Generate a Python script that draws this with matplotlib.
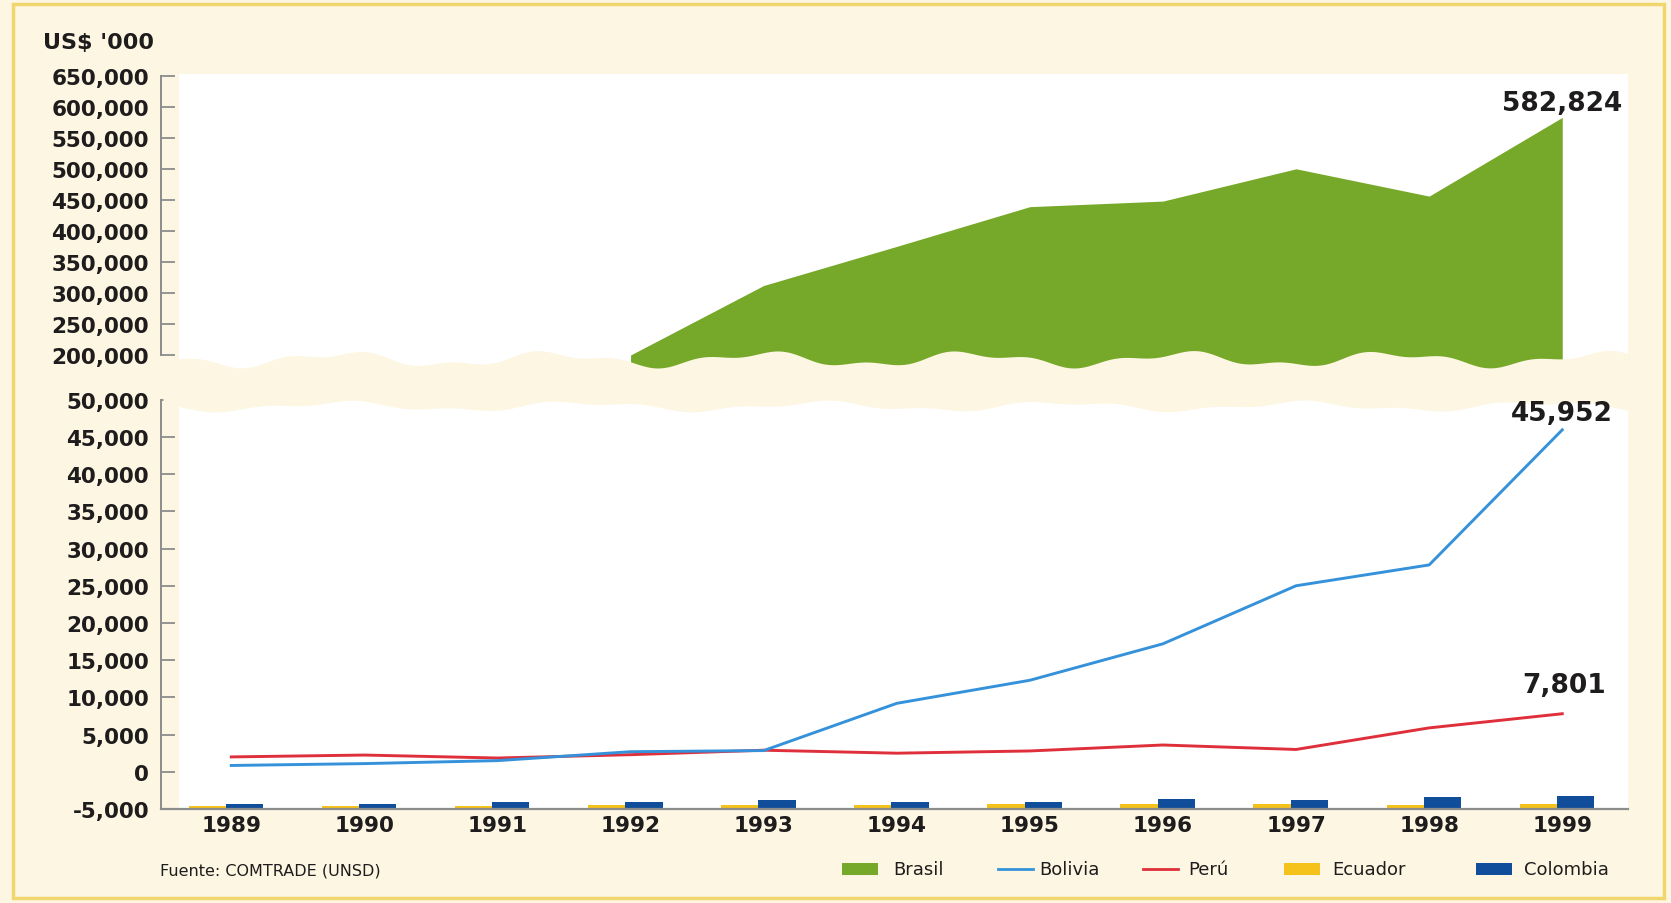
import numpy as np
import matplotlib
matplotlib.use("Agg")
import matplotlib.pyplot as plt
from matplotlib.patches import Rectangle
from matplotlib.lines import Line2D
from matplotlib.ticker import FuncFormatter, FixedLocator

# ---- data (US$ '000) ----
years = [1989, 1990, 1991, 1992, 1993, 1994, 1995, 1996, 1997, 1998, 1999]
brasil = [np.nan, np.nan, np.nan, 200000, 312000, 375000, 439000, 448000, 500000, 456000, 582824]
bolivia = [850, 1100, 1500, 2700, 2850, 9200, 12300, 17200, 25000, 27800, 45952]
peru = [2000, 2250, 1850, 2300, 2900, 2500, 2800, 3600, 3000, 5900, 7801]
ecuador = [400, 450, 450, 500, 550, 550, 650, 650, 700, 600, 650]
colombia = [700, 700, 1000, 1000, 1150, 1000, 1000, 1300, 1150, 1550, 1700]

top_ticks = [200000, 250000, 300000, 350000, 400000, 450000, 500000, 550000, 600000, 650000]
bottom_ticks = [-5000, 0, 5000, 10000, 15000, 20000, 25000, 30000, 35000, 40000, 45000, 50000]
series_names = ["Brasil", "Bolivia", "Perú", "Ecuador", "Colombia"]
unit_label = "US$ '000"
source_label = "Fuente: COMTRADE (UNSD)"

# ---- style ----
W, H = 1671, 904
CREAM = "#FDF6E3"
BORDER = "#F1D56E"
GREEN = "#76A929"
BLUE = "#3592DA"
RED = "#DF2F3B"
YELLOW = "#F5C21B"
NAVY = "#104E9C"
SPINE = "#8C8C8C"
INK = "#1E1C1C"
series_colors = [GREEN, BLUE, RED, YELLOW, NAVY]

plt.rcParams["font.family"] = ["DejaVu Sans"]

fig = plt.figure(figsize=(W / 100, H / 100), dpi=100, facecolor=CREAM)


def frac_box(left, top, right, bottom):
    return [left / W, 1 - bottom / H, (right - left) / W, (bottom - top) / H]


yrs = np.array(years, dtype=float)
x_lo, x_hi = 1988.472, 1999.494
fmt = FuncFormatter(lambda v, _: f"{v:,.0f}")

ax_top = fig.add_axes(frac_box(161, 74.6, 1628, 372))
ax_bot = fig.add_axes(frac_box(161, 397, 1628, 810))

for ax in (ax_top, ax_bot):
    ax.set_facecolor("none")
    ax.add_patch(Rectangle((0.012, 0), 0.988, 1, transform=ax.transAxes,
                           facecolor="white", edgecolor="none", zorder=0))
    ax.set_xlim(x_lo, x_hi)
    for s in ("top", "right"):
        ax.spines[s].set_visible(False)
    ax.spines["left"].set_color(SPINE)
    ax.spines["left"].set_linewidth(1.4)
    ax.tick_params(axis="y", direction="in", length=10, width=1.3, color=SPINE,
                   pad=8.6, labelsize=15.5, labelcolor=INK)

# ---- upper panel: Brasil ----
b = np.array(brasil, dtype=float)
ok = ~np.isnan(b)
ax_top.fill_between(yrs[ok], b[ok], 0, color=GREEN, linewidth=0, zorder=2)
ax_top.set_ylim(174200, 653400)
ax_top.yaxis.set_major_locator(FixedLocator(top_ticks))
ax_top.yaxis.set_major_formatter(fmt)
ax_top.spines["left"].set_bounds(top_ticks[0], top_ticks[-1])
ax_top.spines["bottom"].set_visible(False)
ax_top.tick_params(axis="x", bottom=False, labelbottom=False)

# ---- lower panel: Bolivia, Perú, Ecuador, Colombia ----
base = bottom_ticks[0]
ax_bot.set_ylim(base, 50500)
ax_bot.yaxis.set_major_locator(FixedLocator(bottom_ticks))
ax_bot.yaxis.set_major_formatter(fmt)
ax_bot.spines["left"].set_bounds(bottom_ticks[0], bottom_ticks[-1])
ax_bot.spines["bottom"].set_color(SPINE)
ax_bot.spines["bottom"].set_linewidth(1.6)
ax_bot.spines["bottom"].set_zorder(4)

bar_w = 0.28
ax_bot.bar(yrs - 0.18, ecuador, width=bar_w, bottom=base, color=YELLOW, zorder=3)
ax_bot.bar(yrs + 0.10, colombia, width=bar_w, bottom=base, color=NAVY, zorder=3)
ax_bot.plot(yrs, peru, color=RED, lw=2.1, zorder=4, solid_joinstyle="round")
ax_bot.plot(yrs, bolivia, color=BLUE, lw=2.1, zorder=5, solid_joinstyle="round")

ax_bot.set_xticks(years)
ax_bot.set_xticklabels([str(y) for y in years])
ax_bot.tick_params(axis="x", length=0, pad=4.5, labelsize=15.5, labelcolor=INK)

for ax in (ax_top, ax_bot):
    for lab in ax.get_yticklabels() + ax.get_xticklabels():
        lab.set_fontweight("bold")

# ---- overlay in pixel space: axis break band, frame, legend, captions ----
deco = fig.add_axes([0, 0, 1, 1], zorder=10)
deco.set_xlim(0, W)
deco.set_ylim(H, 0)
deco.axis("off")
deco.patch.set_alpha(0)

bx = np.linspace(163, 1640, 600)
band_top = 360 + 6 * np.sin(2 * np.pi * bx / 210 + 0.8) + 3 * np.sin(2 * np.pi * bx / 83 + 2.0)
band_bot = 407 + 4 * np.sin(2 * np.pi * bx / 240 + 2.1) + 2 * np.sin(2 * np.pi * bx / 95)
deco.fill_between(bx, band_top, band_bot, color=CREAM, linewidth=0)

deco.add_patch(Rectangle((13, 5), 1651, 894, fill=False, edgecolor=BORDER, lw=2.5))

# end-of-series value labels, drawn above the break band
value_labels = [(ax_top, brasil[-1], (0, 1)),
                (ax_bot, bolivia[-1], (0, 3)),
                (ax_bot, peru[-1], (1, 11))]
for ax, val, off in value_labels:
    deco.annotate(f"{val:,.0f}", xy=(years[-1], val), xycoords=ax.transData,
                  xytext=off, textcoords="offset points", ha="center", va="bottom",
                  fontsize=19, fontweight="bold", color=INK, annotation_clip=False)

deco.text(43, 43, unit_label, fontsize=16, fontweight="bold", color=INK,
          ha="left", va="center")
deco.text(160, 871, source_label, fontsize=11.5, color=INK, ha="left", va="center")

legend_handle_x = [842, 998, 1143, 1284, 1476]
legend_text_x = [893, 1039, 1188, 1332, 1524]
legend_kind = ["patch", "line", "line", "patch", "patch"]
ly = 870
for name, col, hx, tx, kind in zip(series_names, series_colors, legend_handle_x,
                                   legend_text_x, legend_kind):
    if kind == "patch":
        deco.add_patch(Rectangle((hx, ly - 6), 36, 12, facecolor=col, edgecolor="none"))
    else:
        deco.add_line(Line2D([hx, hx + 35], [ly, ly], color=col, lw=2.0))
    deco.text(tx, ly, name, fontsize=13, color=INK, ha="left", va="center")

fig.savefig("out.png", dpi=100, facecolor=CREAM)
